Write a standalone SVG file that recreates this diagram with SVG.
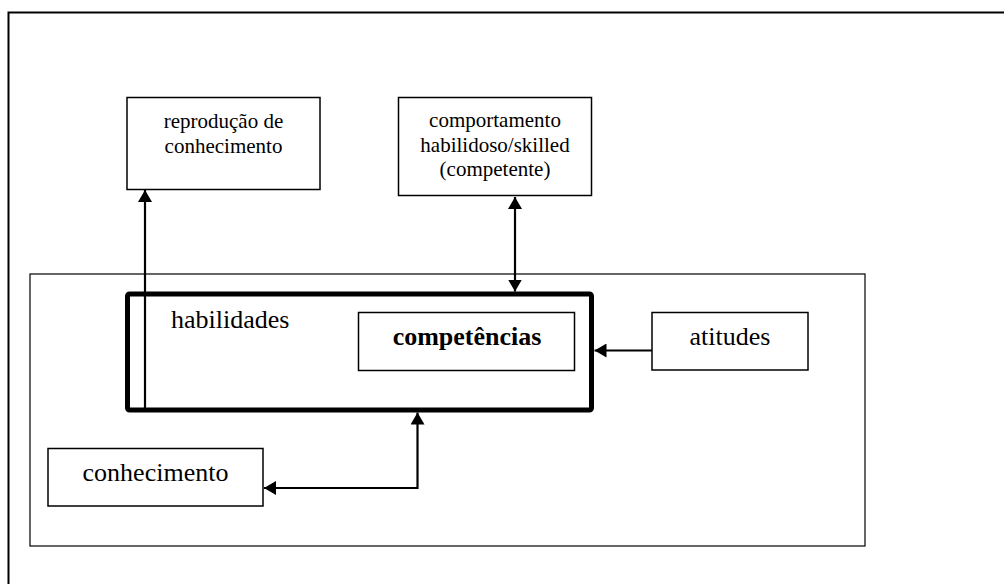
<svg xmlns="http://www.w3.org/2000/svg" width="1004" height="584" viewBox="0 0 1004 584">
  <style>
    .box { fill: #fff; stroke: #000; stroke-width: 1.5; }
    .thin { fill: none; stroke: #000; stroke-width: 1.2; }
    text { font-family: "Liberation Serif", "DejaVu Serif", "Times New Roman", serif; fill: #000; }
    .small { font-size: 21px; }
    .big { font-size: 26px; }
    .link { fill: none; stroke: #000; stroke-width: 2.2; }
  </style>
  <defs>
    <marker id="head" viewBox="0 0 12 14" refX="12" refY="7" markerWidth="12" markerHeight="14" markerUnits="userSpaceOnUse" orient="auto-start-reverse">
      <path d="M0,0 L12,7 L0,14 Z" fill="#000"/>
    </marker>
  </defs>
  <rect width="1004" height="584" fill="#fff"/>

  <!-- outer frame -->
  <rect id="frame" x="8.5" y="12.5" width="1000" height="600" fill="none" stroke="#000" stroke-width="2"/>

  <!-- container -->
  <g id="container">
    <rect class="thin" x="30" y="274" width="835" height="272"/>
  </g>

  <g id="reproducao">
    <rect class="box" x="127" y="97.5" width="193" height="92"/>
    <text class="small" x="223.5" y="128" text-anchor="middle" font-family="Liberation Serif, serif">reprodução de</text>
    <text class="small" x="223.5" y="153" text-anchor="middle" font-family="Liberation Serif, serif">conhecimento</text>
  </g>

  <g id="comportamento">
    <rect class="box" x="398.5" y="97.5" width="193" height="98"/>
    <text class="small" x="495" y="127" text-anchor="middle" font-family="Liberation Serif, serif">comportamento</text>
    <text class="small" x="495" y="152" text-anchor="middle" font-family="Liberation Serif, serif">habilidoso/skilled</text>
    <text class="small" x="495" y="176" text-anchor="middle" font-family="Liberation Serif, serif">(competente)</text>
  </g>

  <g id="habilidades">
    <rect x="127.5" y="294" width="464" height="116" rx="2" fill="none" stroke="#000" stroke-width="5"/>
    <text class="big" x="171" y="328" font-family="Liberation Serif, serif">habilidades</text>
  </g>

  <g id="competencias">
    <rect class="box" x="358.5" y="312.5" width="216" height="58"/>
    <text class="big" x="467" y="345" text-anchor="middle" font-weight="bold" font-family="Liberation Serif, serif">competências</text>
  </g>

  <g id="atitudes">
    <rect class="box" x="652" y="312.5" width="156" height="57.5"/>
    <text class="big" x="730" y="345" text-anchor="middle" font-family="Liberation Serif, serif">atitudes</text>
  </g>

  <g id="conhecimento">
    <rect class="box" x="48" y="448.5" width="215" height="57.5"/>
    <text class="big" x="155.5" y="481" text-anchor="middle" font-family="Liberation Serif, serif">conhecimento</text>
  </g>

  <g id="connectors">
    <!-- habilidades up to reprodução -->
    <path class="link" d="M145,410 L145,190" marker-end="url(#head)"/>
    <!-- two-way link with comportamento -->
    <path class="link" d="M515,197 L515,291.5" marker-start="url(#head)" marker-end="url(#head)"/>
    <!-- atitudes into habilidades -->
    <path class="link" d="M652,350.5 L594.5,350.5" marker-end="url(#head)"/>
    <!-- two-way link with conhecimento -->
    <path class="link" d="M264,488 L417.5,488 L417.5,412.5" marker-start="url(#head)" marker-end="url(#head)"/>
  </g>
</svg>
